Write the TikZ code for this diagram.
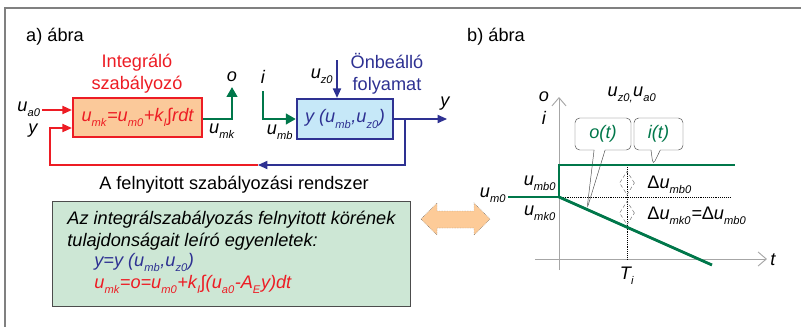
\documentclass[tikz,border=0pt]{standalone}
\usepackage{fontspec}
\setmainfont{Liberation Sans}
\usetikzlibrary{arrows.meta,positioning,shapes.geometric,shapes.callouts}

\definecolor{ctrlred}{HTML}{ED1C24}
\definecolor{procblue}{HTML}{2E3192}
\definecolor{siggreen}{HTML}{00774A}
\definecolor{ctrlfill}{HTML}{FBC99A}
\definecolor{procfill}{HTML}{C6E8F8}
\definecolor{eqfill}{HTML}{CDE7D5}
\definecolor{linkfill}{HTML}{FDCB98}

\newcommand{\lo}[1]{\raisebox{-0.55ex}{\fontsize{9.5}{10}\selectfont #1}\kern0.5pt}

\begin{document}
\begin{tikzpicture}[
x=0.03cm, y=-0.03cm,
every node/.style={font=\fontsize{15.5}{18.7}\selectfont, inner sep=1pt},
lbl/.style={font=\fontsize{15.5}{18.7}\selectfont\itshape},
block/.style={rectangle, line width=2pt, inner sep=0pt},
sig/.style={siggreen, line width=2.4pt, -{Triangle[length=8.5pt,width=9pt]}},
wire/.style={line width=1pt, -{Triangle[length=8pt,width=7pt]}},
bubble/.style={rectangle callout, draw=black!70, fill=white, rounded corners=4pt,
  text=siggreen, font=\fontsize{15.5}{18.7}\selectfont\itshape},
gap/.style={diamond, draw=black!55, densely dashed, line width=0.4pt,
  minimum width=0.45cm, minimum height=0.7cm, inner sep=0pt},
axis/.style={black!35, line width=0.8pt, -{Straight Barb[length=7pt,width=12pt]}}
]
\useasboundingbox (0,0) rectangle (801,327);
\draw[black!50, line width=1.2pt] (801,8) -- (5,8) -- (5,327);

% a) open loop
\node (titlea) at (55,37) {a) ábra};

\node[block, draw=ctrlred, fill=ctrlfill, minimum width=3.87cm, minimum height=1.17cm,
  text=ctrlred, lbl] (ctrl) at (137.5,117.5) {u\lo{mk}=u\lo{m0}+k\lo{I}∫rdt};
\node[text=ctrlred, align=center] (ctrlname) at (137,74) {Integráló\\szabályozó};

\node[block, draw=procblue, fill=procfill, minimum width=2.88cm, minimum height=1.2cm,
  text=procblue, lbl] (proc) at (345,119) {y (u\lo{mb},u\lo{z0})};
\node[text=procblue, align=center] (procname) at (387,74) {Önbeálló\\folyamat};

\node[lbl] (ua0) at (29,109) {u\lo{a0}};
\node[lbl] (yin) at (33,131) {y};
\node[lbl] (olbl) at (232,77) {o};
\node[lbl] (umk) at (222,131) {u\lo{mk}};
\node[lbl] (ilbl) at (263,77) {i};
\node[lbl] (umb) at (280,132) {u\lo{mb}};
\node[lbl] (uz0) at (322,76) {u\lo{z0}};
\node[lbl] (yout) at (445,104) {y};

\coordinate (oend) at (232,87);
\coordinate (istart) at (263,91);
\coordinate (uz0top) at (337,60);
\coordinate (yend) at (447,119);
\coordinate (fbsplit) at (405,119);
\coordinate (fbmid) at (258,165);
\coordinate (fbleft) at (50,165);

\draw[ctrlred, wire] (ua0.east |- 0,110) -- (ctrl.west |- 0,110);
\draw[sig] (ctrl.east |- 0,119) -| (oend);
\draw[sig] (istart) |- (proc.west);
\draw[procblue, wire] (uz0top) -- (proc.north -| uz0top);
\draw[procblue, wire] (proc.east) -- (yend);
\draw[procblue, wire] (fbsplit) |- (fbmid);
\draw[ctrlred, wire] (fbmid) -- (fbleft) -- (fbleft |- 0,128) -- (ctrl.west |- 0,128);

\node (caption) at (234,185) {A felnyitott szabályozási rendszer};

% equations
\node[draw=black!70, fill=eqfill, minimum width=10.74cm, minimum height=3.15cm] (eqbox) at (231,253.5) {};
\node[lbl, anchor=base west] (eqa) at (66,224) {Az integrálszabályozás felnyitott körének};
\node[lbl, anchor=base west] (eqb) at (66,246) {tulajdonságait leíró egyenletek:};
\node[lbl, anchor=base west, text=procblue] (eqc) at (93,266) {y=y (u\lo{mb},u\lo{z0})};
\node[lbl, anchor=base west, text=ctrlred] (eqd) at (93,288) {u\lo{mk}=o=u\lo{m0}+k\lo{I}∫(u\lo{a0}-A\lo{E}y)dt};

\draw[black!60, densely dotted, fill=linkfill] (421,219) -- (437,203) -- (437,211) -- (474,211)
  -- (474,203) -- (490,219) -- (474,235) -- (474,228) -- (437,228) -- (437,235) -- cycle;

% b) step response
\node (titleb) at (496,37) {b) ábra};

\coordinate (orig) at (559,197);
\coordinate (otip) at (587,209);
\coordinate (itip) at (653,165);

\draw[axis] (559,270) -- (559,97);
\draw[axis] (535,259) -- (767,259);

\node[lbl] (oax) at (544,97) {o};
\node[lbl] (iax) at (544,118) {i};
\node[lbl] (tax) at (773,260) {t};
\node[lbl] (dist) at (632,95) {u\lo{z0,}u\lo{a0}};
\node[lbl] (umb0) at (540,183) {u\lo{mb0}};
\node[lbl] (umk0) at (540,213) {u\lo{mk0}};
\node[lbl] (um0) at (493,195) {u\lo{m0}};
\node[lbl] (ti) at (627,276) {T\lo{i}};
\node[lbl, anchor=west] (dmbl) at (646,185) {\upshape Δ\itshape u\lo{mb0}};
\node[lbl, anchor=west] (dmkl) at (646,216) {\upshape Δ\itshape u\lo{mk0}=\upshape Δ\itshape u\lo{mb0}};

\node[bubble, minimum width=1.68cm, minimum height=0.96cm,
  callout absolute pointer={(otip)}, callout pointer width=0.33cm] (obub) at (603,134) {o(t)};
\node[bubble, minimum width=1.47cm, minimum height=0.96cm,
  callout absolute pointer={(itip)}, callout pointer width=0.28cm] (ibub) at (658.5,134) {i(t)};

\draw[densely dotted, line width=0.6pt] (orig) -- (730,197);
\draw[densely dotted, line width=0.6pt] (627,165) -- (627,259);
\node[gap] (dmb) at (627,183) {};
\node[gap] (dmk) at (627,213) {};

\draw[siggreen, line width=2.4pt] (508,197) -- (orig) -- (559,165) -- (735,165);
\draw[siggreen, line width=2.4pt] (orig) -- (712,265);
\end{tikzpicture}
\end{document}
